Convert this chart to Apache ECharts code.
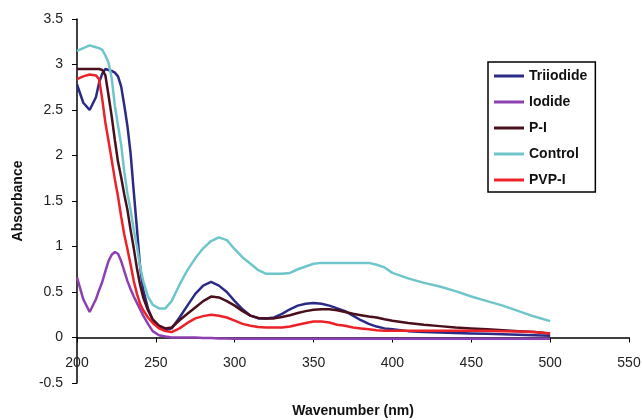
<!DOCTYPE html>
<html>
<head>
<meta charset="utf-8">
<script src="https://cdn.jsdelivr.net/npm/echarts@6/dist/echarts.min.js"></script>
<style>
  html, body { margin: 0; padding: 0; background: #fff; }
  #chart { width: 642px; height: 420px; }
</style>
</head>
<body>
<div id="chart"></div>
<script>
// wavelengths (nm) shared by every curve
var wavelengths = [200, 204, 208, 212, 214, 216, 218, 220, 222, 224, 226, 228, 230, 232, 234, 236, 238, 240, 242, 245, 248, 252, 256, 260,
  265, 270, 275, 280, 285, 290, 295, 300, 305, 310, 315, 320, 325, 330, 335, 340, 345, 350, 355, 360, 365, 370, 375, 380, 385, 390, 395, 400,
  410, 420, 430, 440, 450, 460, 470, 480, 490, 500];

var triiodide = [2.78, 2.58, 2.50, 2.64, 2.80, 2.90, 2.95, 2.94, 2.93, 2.91, 2.87, 2.76, 2.55, 2.32, 2.02, 1.60, 1.20, 0.78, 0.52, 0.32, 0.19, 0.11, 0.08, 0.10,
  0.22, 0.35, 0.48, 0.57, 0.61, 0.57, 0.50, 0.40, 0.31, 0.24, 0.21, 0.21, 0.22, 0.26, 0.31, 0.35, 0.37, 0.38, 0.37, 0.35, 0.32, 0.29, 0.24, 0.19, 0.15, 0.12, 0.10, 0.09,
  0.07, 0.06, 0.055, 0.05, 0.045, 0.04, 0.035, 0.03, 0.025, 0.02];

var iodide = [0.66, 0.42, 0.28, 0.42, 0.52, 0.61, 0.73, 0.84, 0.91, 0.94, 0.92, 0.84, 0.73, 0.62, 0.53, 0.45, 0.38, 0.31, 0.24, 0.15, 0.07, 0.025, 0.01, 0.0,
  0, 0, 0, -0.005, -0.005, -0.01, -0.01, -0.015, -0.015, -0.015, -0.015, -0.015, -0.015, -0.015, -0.015, -0.015, -0.015, -0.015, -0.015, -0.015, -0.015, -0.015, -0.015, -0.015, -0.015, -0.015, -0.015, -0.015,
  -0.015, -0.015, -0.015, -0.015, -0.015, -0.015, -0.015, -0.015, -0.015, -0.015];

var pI = [2.95, 2.95, 2.95, 2.95, 2.95, 2.94, 2.88, 2.66, 2.43, 2.17, 1.93, 1.76, 1.57, 1.40, 1.18, 0.98, 0.76, 0.58, 0.44, 0.30, 0.20, 0.13, 0.10, 0.11,
  0.19, 0.26, 0.33, 0.40, 0.45, 0.44, 0.40, 0.35, 0.29, 0.24, 0.215, 0.21, 0.21, 0.225, 0.245, 0.27, 0.29, 0.305, 0.31, 0.31, 0.30, 0.28, 0.26, 0.245, 0.23, 0.22, 0.20, 0.185,
  0.16, 0.14, 0.125, 0.11, 0.10, 0.09, 0.08, 0.07, 0.06, 0.045];

var control = [3.15, 3.18, 3.21, 3.19, 3.18, 3.16, 3.10, 3.02, 2.85, 2.55, 2.33, 2.12, 1.82, 1.58, 1.40, 1.18, 1.00, 0.78, 0.62, 0.45, 0.36, 0.32, 0.32, 0.40,
  0.58, 0.74, 0.87, 0.98, 1.06, 1.10, 1.07, 0.97, 0.88, 0.81, 0.74, 0.70, 0.70, 0.70, 0.71, 0.75, 0.78, 0.81, 0.82, 0.82, 0.82, 0.82, 0.82, 0.82, 0.82, 0.80, 0.77, 0.71,
  0.65, 0.60, 0.56, 0.51, 0.45, 0.40, 0.35, 0.29, 0.23, 0.18];

var pvpI = [2.84, 2.87, 2.89, 2.88, 2.84, 2.62, 2.36, 2.16, 1.95, 1.74, 1.55, 1.33, 1.13, 0.97, 0.80, 0.62, 0.48, 0.37, 0.30, 0.22, 0.16, 0.10, 0.07, 0.06,
  0.10, 0.16, 0.21, 0.235, 0.25, 0.24, 0.22, 0.185, 0.15, 0.13, 0.115, 0.11, 0.11, 0.11, 0.12, 0.14, 0.16, 0.175, 0.175, 0.165, 0.14, 0.13, 0.11, 0.10, 0.09, 0.08, 0.075, 0.075,
  0.075, 0.075, 0.075, 0.075, 0.075, 0.075, 0.07, 0.065, 0.06, 0.045];

var names = ['Triiodide', 'Iodide', 'P-I', 'Control', 'PVP-I'];
var colors = ['#2b2a85', '#8e3fb0', '#4a0e1c', '#6fc6ca', '#ec2228'];
var values = [triiodide, iodide, pI, control, pvpI];

var font = 'Liberation Sans, Arial, sans-serif';

function pairs(vals) {
  return wavelengths.map(function (w, i) { return [w, vals[i]]; });
}

var chart = echarts.init(document.getElementById('chart'));
chart.setOption({
  animation: false,
  backgroundColor: '#fff',
  grid: { left: 77, right: 13, top: 19, bottom: 37, outerBoundsMode: 'none', containLabel: false },
  legend: {
    orient: 'vertical',
    left: 488,
    top: 62,
    padding: [6, 8, 4, 6],
    itemGap: 10,
    itemWidth: 30,
    itemHeight: 3,
    icon: 'rect',
    borderColor: '#000',
    borderWidth: 1.5,
    data: names,
    textStyle: { fontFamily: font, fontSize: 14, fontWeight: 'bold', color: '#111', lineHeight: 16 }
  },
  xAxis: {
    type: 'value',
    min: 200,
    max: 550,
    interval: 50,
    name: 'Wavenumber (nm)',
    nameLocation: 'middle',
    nameGap: 21,
    nameTextStyle: { fontFamily: font, fontSize: 14, fontWeight: 'bold', color: '#111' },
    axisLine: { onZero: true, lineStyle: { color: '#000', width: 1.5 } },
    axisTick: { length: 5, lineStyle: { color: '#000' } },
    axisLabel: { margin: -27, fontFamily: font, fontSize: 14, color: '#222' },
    splitLine: { show: false }
  },
  yAxis: {
    type: 'value',
    min: -0.5,
    max: 3.5,
    interval: 0.5,
    name: 'Absorbance',
    nameLocation: 'middle',
    nameGap: 52,
    nameTextStyle: { fontFamily: font, fontSize: 14, fontWeight: 'bold', color: '#111' },
    axisLine: { show: true, lineStyle: { color: '#000', width: 1.5 } },
    axisTick: { show: true, length: 5, lineStyle: { color: '#000' } },
    axisLabel: { margin: 14, fontFamily: font, fontSize: 14, color: '#222' },
    splitLine: { show: false }
  },
  series: names.map(function (n, i) {
    return {
      name: n,
      type: 'line',
      data: pairs(values[i]),
      showSymbol: false,
      color: colors[i],
      lineStyle: { width: 2.5, color: colors[i] }
    };
  })
});
</script>
</body>
</html>
